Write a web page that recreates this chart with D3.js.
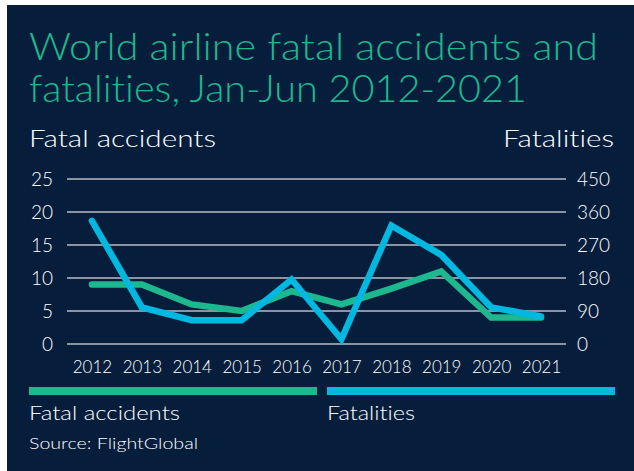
<!DOCTYPE html>
<html>
<head>
<meta charset="utf-8">
<script src="https://cdnjs.cloudflare.com/ajax/libs/d3/7.8.5/d3.min.js"></script>
<style>
  body { margin:0; background:#fff; }
  svg text { font-family: Lato, "Noto Sans", sans-serif; font-weight:300; font-variant-ligatures:none; font-feature-settings:"liga" 0; }
</style>
</head>
<body>
<svg id="chart"></svg>
<script>

var years = ["2012","2013","2014","2015","2016","2017","2018","2019","2020","2021"];
var accidents = [9, 9, 6, 5, 8, 6, 8.4, 11, 4, 4];
var fatalities = [336, 100, 65, 65, 176, 13, 323, 243, 100, 75];
var leftTicks = [0, 5, 10, 15, 20, 25];
var rightTicks = [0, 90, 180, 270, 360, 450];

var screen = {width:634, height:471};
var colors = {bg:"#061e3c", green:"#1db88e", blue:"#00b8e0", grid:"#b9bcc2", text:"#ffffff"};

var svg = d3.select("#chart")
    .attr("width",screen.width)
    .attr("height",screen.height);

svg.append("rect")
    .attr("x",7).attr("y",5)
    .attr("width",screen.width-7).attr("height",screen.height-5)
    .attr("fill",colors.bg);

// fits a text to a given width
var fitText = function(sel,w)
{
    sel.attr("textLength",w).attr("lengthAdjust","spacingAndGlyphs");
}

svg.append("text").text("World airline fatal accidents and")
    .attr("x",29).attr("y",59.5)
    .attr("font-size",38).attr("fill",colors.green)
    .call(fitText,569);
svg.append("text").text("fatalities, Jan-Jun 2012-2021")
    .attr("x",29).attr("y",102)
    .attr("font-size",38).attr("fill",colors.green)
    .call(fitText,498);

svg.append("text").text("Fatal accidents")
    .attr("x",29).attr("y",147)
    .attr("font-size",23).attr("fill",colors.text)
    .call(fitText,187);
svg.append("text").text("Fatalities")
    .attr("x",614).attr("y",147)
    .attr("text-anchor","end")
    .attr("font-size",23).attr("fill",colors.text)
    .call(fitText,111);

var xScale = d3.scalePoint()
    .domain(years)
    .range([67,566])
    .padding(0.5);

var yLeft = d3.scaleLinear()
    .domain([0,25])
    .range([344,179]);

var yRight = d3.scaleLinear()
    .domain([0,450])
    .range([344,179]);

// gridlines
svg.append("g")
    .selectAll("line")
    .data(leftTicks)
    .enter()
    .append("line")
    .attr("x1",67).attr("x2",566)
    .attr("y1",function(d){return yLeft(d);})
    .attr("y2",function(d){return yLeft(d);})
    .attr("stroke",colors.grid)
    .attr("stroke-width",1.5);

var leftAxis = d3.axisLeft(yLeft).tickValues(leftTicks).tickSize(0).tickPadding(0);
var rightAxis = d3.axisRight(yRight).tickValues(rightTicks).tickSize(0).tickPadding(0);
var xAxis = d3.axisBottom(xScale).tickSize(0).tickPadding(0);

var styleAxis = function(g,size)
{
    g.select(".domain").remove();
    g.selectAll("text")
        .attr("fill",colors.text)
        .attr("font-size",size)
        .style("font-family","Lato, 'Noto Sans', sans-serif")
        .style("font-weight",300);
}

svg.append("g")
    .attr("transform","translate(53,0)")
    .call(leftAxis)
    .call(styleAxis,19);

svg.append("g")
    .attr("transform","translate(577,0)")
    .call(rightAxis)
    .call(styleAxis,19);

var xg = svg.append("g")
    .attr("transform","translate(0,360)")
    .call(xAxis)
    .call(styleAxis,17);
xg.selectAll("text").attr("dy","0.75em");

var lineLeft = d3.line()
    .x(function(d,i){return xScale(years[i]);})
    .y(function(d){return yLeft(d);});
var lineRight = d3.line()
    .x(function(d,i){return xScale(years[i]);})
    .y(function(d){return yRight(d);});

svg.append("path")
    .datum(accidents)
    .attr("d",lineLeft)
    .attr("fill","none")
    .attr("stroke",colors.green)
    .attr("stroke-width",6.5)
    .attr("stroke-linecap","round")
    .attr("stroke-linejoin","miter");

svg.append("path")
    .datum(fatalities)
    .attr("d",lineRight)
    .attr("fill","none")
    .attr("stroke",colors.blue)
    .attr("stroke-width",6.5)
    .attr("stroke-linecap","round")
    .attr("stroke-linejoin","miter");

// legend
var legendItems = [
    {label:"Fatal accidents", color:colors.green, x:29, w:288, tw:151},
    {label:"Fatalities", color:colors.blue, x:327, w:288, tw:88}
];

var entries = svg.selectAll(".legendEntry")
    .data(legendItems)
    .enter()
    .append("g")
    .classed("legendEntry",true)
    .attr("transform",function(d){return "translate("+d.x+",0)";});

entries.append("rect")
    .attr("y",387)
    .attr("width",function(d){return d.w;})
    .attr("height",8)
    .attr("fill",function(d){return d.color;});

entries.append("text")
    .text(function(d){return d.label;})
    .attr("y",420)
    .attr("font-size",20)
    .attr("fill",colors.text)
    .attr("textLength",function(d){return d.tw;})
    .attr("lengthAdjust","spacingAndGlyphs");

svg.append("text").text("Source: FlightGlobal")
    .attr("x",29).attr("y",449)
    .attr("font-size",15)
    .attr("fill",colors.text)
    .call(fitText,169);

</script>
</body>
</html>
